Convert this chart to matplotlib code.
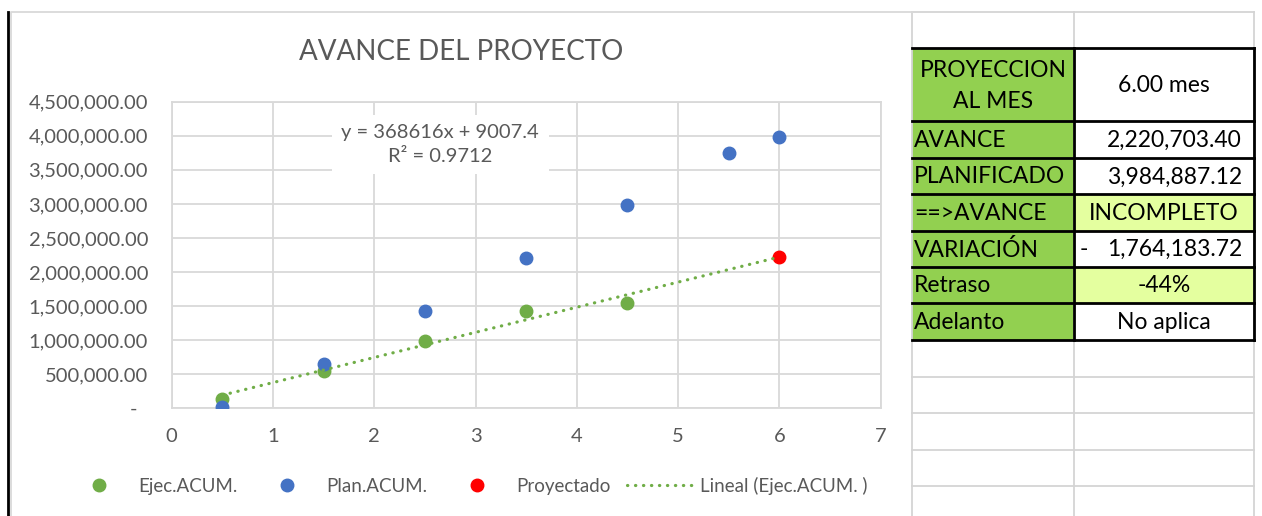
import matplotlib
matplotlib.use("Agg")
import matplotlib.pyplot as plt
from matplotlib.lines import Line2D
from matplotlib.patches import Rectangle
from matplotlib.ticker import FuncFormatter
import numpy as np

# chart data (months, accumulated amounts)
meses_ejec = [0.5, 1.5, 2.5, 3.5, 4.5]
ejec_acum = [142000, 544000, 993500, 1432000, 1541000]
meses_plan = [0.5, 1.5, 2.5, 3.5, 4.5, 5.5, 6.0]
plan_acum = [15000, 650000, 1428000, 2201000, 2979000, 3751000, 3984887.12]
meses_proy = [6.0]
proyectado = [2220703.40]
tendencia_x = [0.5, 6.0]

titulo = "AVANCE DEL PROYECTO"
ecuacion = "y = 368616x + 9007.4\nR² = 0.9712"
series_nombres = ["Ejec.ACUM.", "Plan.ACUM.", "Proyectado", "Lineal (Ejec.ACUM. )"]

# summary table on the right
tabla_etiquetas = ["PROYECCION\nAL MES", "AVANCE", "PLANIFICADO", "==>AVANCE",
                   "VARIACIÓN", "Retraso", "Adelanto"]
tabla_valores = ["6.00 mes", "2,220,703.40", "3,984,887.12", "INCOMPLETO",
                 "1,764,183.72", "-44%", "No aplica"]

VERDE = "#70AD47"
AZUL = "#4472C4"
ROJO = "#FF0000"
GRIS_TXT = "#595959"
GRID = "#D9D9D9"
FONT = "Lato"
DOTS = (0, (0.1, 2.4))

W, H = 1262, 516
fig = plt.figure(figsize=(W / 100, H / 100), dpi=100)

# background overlay in pixel coordinates (sheet grid, chart frame, table)
bg = fig.add_axes([0, 0, 1, 1])
bg.set_xlim(0, W)
bg.set_ylim(H, 0)
bg.axis("off")

sheet_gray = "#D4D4D4"
for xv in [912, 1074, 1254]:
    bg.plot([xv, xv], [12, H], color=sheet_gray, lw=1.3)
for yv in [12.3, 376.7, 413.3, 450, 486]:
    bg.plot([912, 1254], [yv, yv], color=sheet_gray, lw=1.3)
# chart frame
bg.plot([11, 11, 912], [H, 12.3, 12.3], color=GRID, lw=1.3)
bg.plot([7.5, 7.5], [12, H], color="black", lw=2)

filas = [48.3, 121, 157.7, 194, 230.7, 266.7, 303.3, 340]
verde_celda = "#92D050"
amarillo = "#E4FF9F"
fs_tab = 16.5
for i, (lab, val) in enumerate(zip(tabla_etiquetas, tabla_valores)):
    y0, y1 = filas[i], filas[i + 1]
    ym = (y0 + y1) / 2 + 1
    bg.add_patch(Rectangle((912, y0), 162, y1 - y0, facecolor=verde_celda, edgecolor="none"))
    fc = amarillo if val in ("INCOMPLETO", "-44%") else "white"
    bg.add_patch(Rectangle((1074, y0), 180, y1 - y0, facecolor=fc, edgecolor="none"))
    if i == 0:
        bg.text(993, ym, lab, ha="center", va="center", fontsize=fs_tab, family=FONT,
                linespacing=1.6)
    else:
        bg.text(914, ym, lab, ha="left", va="center", fontsize=fs_tab, family=FONT)
    if val[0].isdigit() and "," in val:
        bg.text(1242, ym, val, ha="right", va="center", fontsize=fs_tab, family=FONT)
        if lab == "VARIACIÓN":
            bg.text(1080, ym, "-", ha="left", va="center", fontsize=fs_tab, family=FONT)
    else:
        bg.text(1164, ym, val, ha="center", va="center", fontsize=fs_tab, family=FONT)
for yv in filas:
    bg.plot([912, 1254], [yv, yv], color="black", lw=2)
bg.plot([1074, 1074], [filas[0], filas[-1]], color="black", lw=2)
bg.plot([1254, 1254], [filas[0], filas[-1]], color="black", lw=2)

# chart axes
x0, x1 = 171.7, 880.7
y_top, y_bot = 101.7, 408.3
ax = fig.add_axes([x0 / W, 1 - y_bot / H, (x1 - x0) / W, (y_bot - y_top) / H])
ax.set_facecolor("none")
ax.set_xlim(0, 7)
ax.set_ylim(0, 4500000)
ax.set_xticks(range(0, 8))
ax.set_yticks(np.arange(0, 4500001, 500000))
ax.grid(True, color=GRID, lw=1.3)
ax.set_axisbelow(True)
for s in ax.spines.values():
    s.set_color(GRID)
    s.set_linewidth(1.3)
ax.tick_params(length=0, labelsize=14.5, labelcolor=GRIS_TXT)
ax.tick_params(axis="x", pad=14)
ax.tick_params(axis="y", pad=17)


def fmt_y(v, pos):
    if v == 0:
        return "-  "
    return f"{v:,.2f}"


ax.yaxis.set_major_formatter(FuncFormatter(fmt_y))
for lbl in ax.get_xticklabels() + ax.get_yticklabels():
    lbl.set_family(FONT)

ms = 9
ax.plot(meses_ejec, ejec_acum, "o", color=VERDE, ms=ms, zorder=3)
ax.plot(meses_plan, plan_acum, "o", color=AZUL, ms=ms, zorder=4)
ax.plot(meses_proy, proyectado, "o", color=ROJO, ms=ms, zorder=5)

coef = np.polyfit(meses_ejec, ejec_acum, 1)
ax.plot(tendencia_x, np.polyval(coef, tendencia_x), color=VERDE, lw=2.3,
        linestyle=DOTS, dash_capstyle="round", zorder=6)

ax.text(2.65, 3870000, ecuacion, ha="center", va="center", fontsize=14.5,
        color=GRIS_TXT, family=FONT, linespacing=1.45,
        bbox=dict(facecolor="white", edgecolor="none", pad=7))

fig.text(461 / W, 1 - 52 / H, titulo, ha="center", va="center", fontsize=20,
         color=GRIS_TXT, family=FONT)

handles = [
    Line2D([], [], marker="o", ls="none", color=VERDE, ms=ms),
    Line2D([], [], marker="o", ls="none", color=AZUL, ms=ms),
    Line2D([], [], marker="o", ls="none", color=ROJO, ms=ms),
    Line2D([], [], color=VERDE, lw=2.3, linestyle=DOTS, dash_capstyle="round"),
]
leg = fig.legend(handles, series_nombres, loc="center", ncol=4, frameon=False,
                 bbox_to_anchor=(466 / W, 1 - 486 / H),
                 handlelength=3.6, handletextpad=0.3, columnspacing=0.85,
                 prop={"family": FONT, "size": 13.5})
for t in leg.get_texts():
    t.set_color(GRIS_TXT)

fig.savefig("out.png", dpi=100)
